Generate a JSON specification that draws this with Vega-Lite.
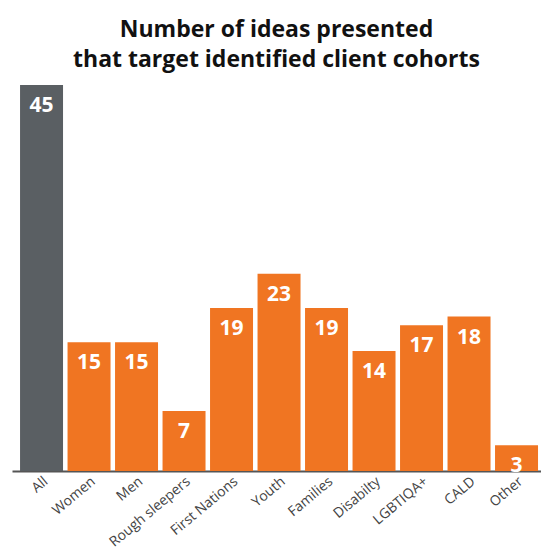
{
  "$schema": "https://vega.github.io/schema/vega-lite/v6.json",
  "width": 529,
  "height": 386,
  "autosize": "none",
  "padding": {"left": 12, "top": 85, "right": 0, "bottom": 83},
  "background": "white",
  "title": {
    "text": ["Number of ideas presented", "that target identified client cohorts"],
    "font": "Open Sans",
    "fontSize": 23,
    "fontWeight": "bold",
    "color": "#111111",
    "lineHeight": 30,
    "anchor": "middle",
    "offset": 13
  },
  "config": {"view": {"stroke": null}},
  "data": {
    "values": [
      {"cohort": "All", "ideas": 45, "group": "all"},
      {"cohort": "Women", "ideas": 15, "group": "cohort"},
      {"cohort": "Men", "ideas": 15, "group": "cohort"},
      {"cohort": "Rough sleepers", "ideas": 7, "group": "cohort"},
      {"cohort": "First Nations", "ideas": 19, "group": "cohort"},
      {"cohort": "Youth", "ideas": 23, "group": "cohort"},
      {"cohort": "Families", "ideas": 19, "group": "cohort"},
      {"cohort": "Disabilty", "ideas": 14, "group": "cohort"},
      {"cohort": "LGBTIQA+", "ideas": 17, "group": "cohort"},
      {"cohort": "CALD", "ideas": 18, "group": "cohort"},
      {"cohort": "Other", "ideas": 3, "group": "cohort"}
    ]
  },
  "encoding": {
    "x": {
      "field": "cohort",
      "type": "nominal",
      "sort": null,
      "scale": {"paddingInner": 0.095, "paddingOuter": 0.116, "align": 0.73},
      "axis": {
        "title": null,
        "labelAngle": -40,
        "labelAlign": "right",
        "labelBaseline": "top",
        "labelFont": "Open Sans",
        "labelFontSize": 14,
        "labelColor": "#444444",
        "labelPadding": 3,
        "ticks": false,
        "domainColor": "#555555",
        "domainWidth": 2,
        "domainCap": "butt"
      }
    },
    "y": {
      "field": "ideas",
      "type": "quantitative",
      "scale": {"domain": [0, 45], "nice": false},
      "axis": null
    }
  },
  "layer": [
    {
      "mark": {"type": "bar"},
      "encoding": {
        "color": {
          "field": "group",
          "type": "nominal",
          "scale": {"domain": ["all", "cohort"], "range": ["#5A5F63", "#F07522"]},
          "legend": null
        }
      }
    },
    {
      "mark": {
        "type": "text",
        "baseline": "top",
        "dy": 10,
        "font": "Open Sans",
        "fontSize": 21,
        "fontWeight": "bold",
        "color": "white"
      },
      "encoding": {"text": {"field": "ideas", "type": "quantitative"}}
    }
  ]
}
